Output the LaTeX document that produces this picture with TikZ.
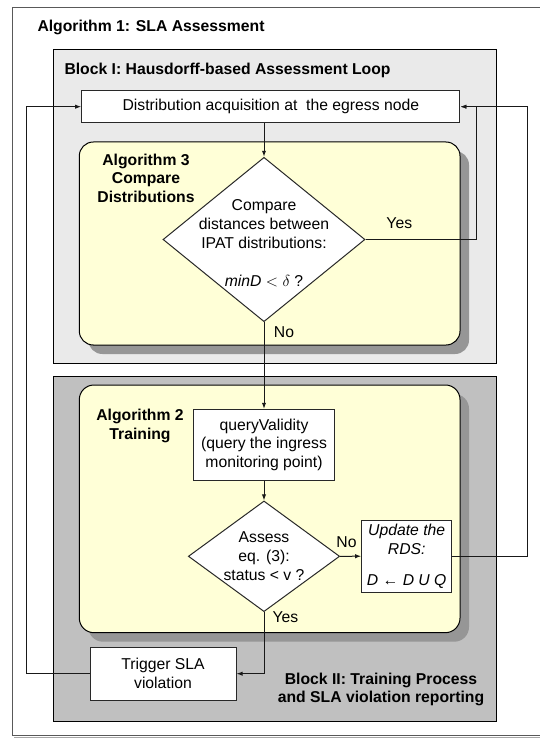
\documentclass[tikz,border=0pt]{standalone}
\usepackage{fontspec}
\setmainfont{Liberation Sans}
\usetikzlibrary{arrows.meta,shapes.geometric}

\definecolor{blockonefill}{RGB}{234,234,234}
\definecolor{blocktwofill}{RGB}{192,192,192}
\definecolor{algofill}{RGB}{255,255,215}
\definecolor{shadowgray}{RGB}{150,150,150}

\tikzset{every picture/.style={line width=0.75pt}}
\tikzset{
  txt/.style={font=\fontsize{11.8}{14}\selectfont, inner sep=0.75pt, align=center},
  boldtxt/.style={txt, font=\fontsize{11.8}{14}\selectfont\bfseries},
  flowbox/.style={txt, draw={rgb, 255:red, 40; green, 40; blue, 40}, fill=white},
  itbox/.style={flowbox, font=\fontsize{11.8}{14}\selectfont\itshape},
  decision/.style={diamond, draw={rgb, 255:red, 40; green, 40; blue, 40}, fill=white, inner sep=0pt},
  flowarrow/.style={-{Latex[length=4.5pt,width=3.2pt]}, color=black!90}
}

\begin{document}
\begin{tikzpicture}[x=0.75pt,y=0.75pt,yscale=-1,xscale=1]
\useasboundingbox (0,0) rectangle (539,738);

%Shape: Rectangle [outer frame]
\draw [color=black!35, line width=1.5] (14,737.5) -- (545,737.5) ;
\draw [color=black!65] (12,7.5) rectangle (545,735.5) ;

%Shape: Rectangle [Block I]
\draw [fill=blockonefill] (53.3,49.3) rectangle (496.7,363.3) ;
%Shape: Rounded Rectangle [Algorithm 3]
\fill [shadowgray, rounded corners=10.5pt] (88.3,151) rectangle (469,354) ;
\draw [fill=algofill, rounded corners=10.5pt] (79.3,142) rectangle (460,345) ;

%Shape: Rectangle [Block II]
\draw [fill=blocktwofill] (53.3,376.7) rectangle (496.7,721) ;
%Shape: Rounded Rectangle [Algorithm 2]
\fill [shadowgray, rounded corners=11pt] (88.3,394) rectangle (469,641.7) ;
\draw [fill=algofill, rounded corners=11pt] (79.3,385) rectangle (460,632.7) ;

%Flowchart: Process
\node [flowbox, minimum width=283.7pt, minimum height=24pt] (dist) at (270.85,106.7) {Distribution acquisition at\ \ the egress node};
%Flowchart: Decision
\node [decision, minimum width=151.5pt, minimum height=123.3pt] (cmp) at (264,239.5) {};
\node [txt] (cmptext) at (264,243.4) {Compare\\distances between\\IPAT distributions:\\[15pt]\textit{minD} $<\delta$ ?};
%Flowchart: Process
\node [flowbox, minimum width=105.2pt, minimum height=53pt] (query) at (264,444.7) {queryValidity\\(query the ingress\\monitoring point)};
%Flowchart: Decision
\node [decision, minimum width=113.5pt, minimum height=83pt] (assess) at (264,556.3) {};
\node [txt] (assesstext) at (264,556) {Assess\\eq. (3):\\status < v ?};
%Flowchart: Process
\node [itbox, minimum width=67.5pt, minimum height=54.2pt] (rds) at (406.7,556.2) {Update the\\RDS:\\[9.5pt]D ← D U Q};
%Flowchart: Process
\node [flowbox, minimum width=109.5pt, minimum height=39.7pt] (trigger) at (163,673.7) {Trigger SLA\\violation};

% Text Node
\node [boldtxt, anchor=west] (algone) at (36,27) {Algorithm 1: SLA Assessment};
% Text Node
\node [boldtxt, anchor=west] (blockone) at (63,70) {Block I: Hausdorff-based Assessment Loop};
% Text Node
\node [boldtxt] (algthree) at (146,178.3) {Algorithm 3\\Compare\\Distributions};
% Text Node
\node [boldtxt] (algtwo) at (140,426) {Algorithm 2\\Training};
% Text Node
\node [boldtxt] (blocktwo) at (381,689.5) {Block II: Training Process\\and SLA violation reporting};
% Text Node
\node [txt] (yesone) at (399.3,222.7) {Yes};
% Text Node
\node [txt] (noone) at (284,332) {No};
% Text Node
\node [txt] (notwo) at (346.5,541.7) {No};
% Text Node
\node [txt] (yestwo) at (285.5,617) {Yes};

\coordinate (yesbend) at (476.7,106.7);
\coordinate (rdsbend) at (527.5,106.7);
\coordinate (trigbend) at (26.7,106.7);

%Connectors
\draw [flowarrow] (dist.south -| cmp.north) -- (cmp.north) ;
\draw [flowarrow] (cmp.east) -| (yesbend) -- (dist.east) ;
\draw [flowarrow] (cmp.south) -- (query.north) ;
\draw [flowarrow] (query.south) -- (assess.north) ;
\draw [flowarrow] (assess.east) -- (rds.west) ;
\draw [flowarrow] (rds.east) -| (rdsbend) -- (dist.east) ;
\draw [flowarrow] (assess.south) |- (trigger.east) ;
\draw [flowarrow] (trigger.west) -| (trigbend) -- (dist.west) ;

\end{tikzpicture}
\end{document}
